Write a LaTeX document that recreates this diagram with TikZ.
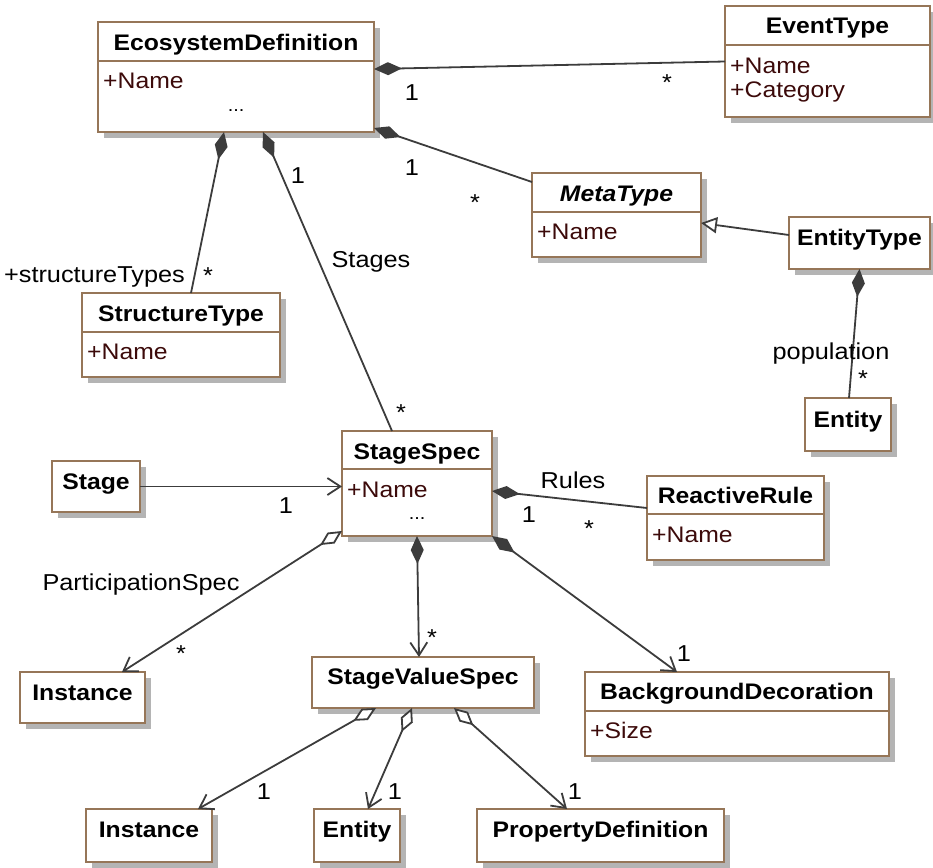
\documentclass[tikz,border=0pt]{standalone}
\usepackage{fontspec}
\setmainfont{Liberation Sans}[FakeStretch=1.1]
\usetikzlibrary{arrows.meta,fit}

\definecolor{boxedge}{RGB}{150,118,88}
\definecolor{boxshadow}{RGB}{180,180,180}
\definecolor{attrtext}{RGB}{60,10,10}
\definecolor{linkgray}{RGB}{60,60,60}

\tikzset{
  classbox/.style={draw=boxedge, line width=1.8pt, fill=white, inner sep=0pt, outer sep=0pt},
  shadowbox/.style={fill=boxshadow, draw=none},
  divider/.style={draw=boxedge, line width=1.8pt},
  header/.style={font=\fontsize{22.5}{27}\selectfont\bfseries, anchor=base, inner sep=0pt},
  attr/.style={font=\fontsize{22.5}{27}\selectfont, text=attrtext, anchor=base west, inner sep=0pt},
  dots/.style={font=\fontsize{18}{20}\selectfont, anchor=base, inner sep=0pt},
  lbl/.style={font=\fontsize{23}{27}\selectfont, anchor=base, inner sep=0pt},
  link/.style={draw=linkgray, line width=1.8pt},
  comp/.style={link, {Diamond[length=28pt,width=13pt,fill=linkgray]}-},
  compnav/.style={link, {Diamond[length=28pt,width=13pt,fill=linkgray]}-{Straight Barb[length=13pt,width=17pt]}},
  aggnav/.style={link, {Diamond[length=26pt,width=13pt,fill=white]}-{Straight Barb[length=13pt,width=17pt]}},
  nav/.style={link, -{Straight Barb[length=13pt,width=17pt]}},
  gen/.style={link, -{Triangle[length=16pt,width=16pt,fill=white]}},
}

% class rectangle with its drop shadow: name, left, top, right, bottom
\newcommand{\classrect}[5]{%
  \fill[shadowbox] (#2+6,#3+6) rectangle (#4+6,#5+6);
  \node[classbox, fit={(#2,#3) (#4,#5)}] (#1) {};
}

\begin{document}
\begin{tikzpicture}[x=1pt, y=-1pt]
\useasboundingbox (0,0) rectangle (933,867);

% ---------- classes ----------
\classrect{ecodef}{98}{22}{374}{132}
\draw[divider] (ecodef.west |- 0,61) -- (ecodef.east |- 0,61);
\node[header] (ecodef-h) at (236,50) {EcosystemDefinition};
\node[attr] (ecodef-a1) at (103,88) {+Name};
\node[dots] (ecodef-d) at (236,111) {...};

\classrect{eventtype}{725}{6}{930}{117}
\draw[divider] (eventtype.west |- 0,45) -- (eventtype.east |- 0,45);
\node[header] (eventtype-h) at (827.5,34) {EventType};
\node[attr] (eventtype-a1) at (730,74) {+Name};
\node[attr] (eventtype-a2) at (730,97) {+Category};

\classrect{metatype}{532}{173}{701}{257}
\draw[divider] (metatype.west |- 0,212) -- (metatype.east |- 0,212);
\node[header, font=\fontsize{22.5}{27}\selectfont\bfseries\itshape] (metatype-h) at (616.5,201) {MetaType};
\node[attr] (metatype-a1) at (537,239) {+Name};

\classrect{entitytype}{789}{217}{930}{269}
\node[header] (entitytype-h) at (859.5,245) {EntityType};

\classrect{structtype}{82}{293}{280}{377}
\draw[divider] (structtype.west |- 0,332) -- (structtype.east |- 0,332);
\node[header] (structtype-h) at (181,321) {StructureType};
\node[attr] (structtype-a1) at (87,359) {+Name};

\classrect{entityA}{805}{398}{891}{451}
\node[header] (entityA-h) at (848,427) {Entity};

\classrect{stagespec}{342}{431}{492}{536}
\draw[divider] (stagespec.west |- 0,469) -- (stagespec.east |- 0,469);
\node[header] (stagespec-h) at (417,459) {StageSpec};
\node[attr] (stagespec-a1) at (347,497) {+Name};
\node[dots] (stagespec-d) at (417,519) {...};

\classrect{stage}{52}{461}{140}{512}
\node[header] (stage-h) at (96,489) {Stage};

\classrect{reactiverule}{647}{476}{824}{560}
\draw[divider] (reactiverule.west |- 0,514) -- (reactiverule.east |- 0,514);
\node[header] (reactiverule-h) at (735.5,503) {ReactiveRule};
\node[attr] (reactiverule-a1) at (652,542) {+Name};

\classrect{instanceA}{20}{672}{145}{723}
\node[header] (instanceA-h) at (82.5,700) {Instance};

\classrect{svs}{312}{657}{534}{708}
\node[header] (svs-h) at (423,684) {StageValueSpec};

\classrect{bgdeco}{585}{672}{889}{756}
\draw[divider] (bgdeco.west |- 0,711) -- (bgdeco.east |- 0,711);
\node[header] (bgdeco-h) at (737,699) {BackgroundDecoration};
\node[attr] (bgdeco-a1) at (590,738) {+Size};

\classrect{instanceB}{86}{809}{212}{862}
\node[header] (instanceB-h) at (149,837) {Instance};

\classrect{entityB}{314}{809}{400}{862}
\node[header] (entityB-h) at (357,837) {Entity};

\classrect{propdef}{477}{809}{724}{862}
\node[header] (propdef-h) at (600.5,837) {PropertyDefinition};

% ---------- associations ----------
\draw[comp] ([yshift=8pt]ecodef.east) -- (eventtype.west);
\draw[comp] ([yshift=4pt]ecodef.south east) -- ([yshift=-9pt]metatype.north west);
\draw[comp] ([xshift=-12pt]ecodef.south) -- ([xshift=10pt]structtype.north);
\draw[comp] ([xshift=27pt]ecodef.south) -- ([xshift=-25pt]stagespec.north);
\draw[gen] ([yshift=8pt]entitytype.west) -- ([yshift=-8pt]metatype.east);
\draw[comp] (entitytype.south) -- ([xshift=1pt]entityA.north);
\draw[nav] (stage.east) -- (stage.east -| stagespec.west);
\draw[comp] ([yshift=-7.5pt]stagespec.east) -- ([yshift=10pt]reactiverule.west);
\draw[aggnav] ([yshift=5pt]stagespec.south west) -- ([xshift=39.5pt]instanceA.north);
\draw[compnav] (stagespec.south) -- ([xshift=-4pt]svs.north);
\draw[compnav] (stagespec.south east) -- ([xshift=-60pt]bgdeco.north);
\draw[aggnav] ([xshift=-47pt]svs.south) -- ([xshift=49pt]instanceB.north);
\draw[aggnav] ([xshift=-11pt]svs.south) -- ([xshift=11pt]entityB.north);
\draw[aggnav] ([xshift=31pt]svs.south) -- ([xshift=-33.5pt]propdef.north);

% ---------- role names and multiplicities ----------
\node[lbl] (m-ev-1) at (412,100) {1};
\node[lbl] (m-ev-s) at (667,90) {*};
\node[lbl] (m-mt-1) at (412,175) {1};
\node[lbl] (m-mt-s) at (475,210) {*};
\node[lbl, anchor=base east] (r-st) at (185,282) {+structureTypes};
\node[lbl] (m-st-s) at (208,283) {*};
\node[lbl] (m-sg-1) at (298,183) {1};
\node[lbl] (r-sg) at (371,267) {Stages};
\node[lbl] (m-sg-s) at (401,420) {*};
\node[lbl] (r-pop) at (831,359) {population};
\node[lbl] (m-pop-s) at (863,386) {*};
\node[lbl] (m-stage-1) at (286,513) {1};
\node[lbl] (r-rules) at (573,488) {Rules};
\node[lbl] (m-ru-1) at (529,522) {1};
\node[lbl] (m-ru-s) at (589,536) {*};
\node[lbl] (r-ps) at (141,590) {ParticipationSpec};
\node[lbl] (m-ps-s) at (181,661) {*};
\node[lbl] (m-svs-s) at (432,645) {*};
\node[lbl] (m-bg-1) at (684,661) {1};
\node[lbl] (m-in-1) at (264,799) {1};
\node[lbl] (m-en-1) at (395,799) {1};
\node[lbl] (m-pd-1) at (575,799) {1};

\end{tikzpicture}
\end{document}
